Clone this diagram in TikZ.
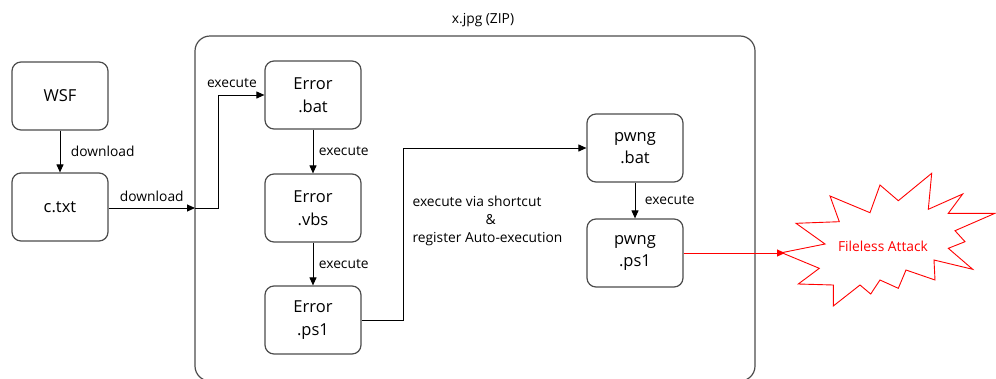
\documentclass[tikz,border=0pt]{standalone}
\usepackage{fontspec}
\setmainfont{Open Sans}
\usetikzlibrary{arrows.meta}
\begin{document}
\begin{tikzpicture}[x=1pt,y=-1pt,
        box/.style={draw=black!70,line width=1.2pt,rounded corners=9pt,minimum width=96pt,minimum height=68pt,inner sep=0pt,align=center,font=\fontsize{16.5}{22.5}\selectfont},
        lbl/.style={font=\fontsize{13.8}{18}\selectfont},
        arr/.style={-{Triangle[length=8pt,width=7pt]},line width=1pt}]
        \useasboundingbox (0,0) rectangle (996,378);
        % container
        \draw[draw=black!70,line width=1.2pt,rounded corners=15pt] (195,36) rectangle (755,381);
        \node[lbl] (zip) at (483,20) {x.jpg (ZIP)};
        \coordinate (entry) at (195,208);
        \coordinate (bend) at (403,0);
        % nodes
        \node[box] (wsf) at (60,96) {WSF};
        \node[box] (ctxt) at (60,207) {c.txt};
        \node[box] (ebat) at (313,95) {Error\\.bat};
        \node[box] (evbs) at (313,208) {Error\\.vbs};
        \node[box] (eps) at (313,320) {Error\\.ps1};
        \node[box] (pbat) at (635,148) {pwng\\.bat};
        \node[box] (pps) at (635,253) {pwng\\.ps1};
        % fileless attack
        \draw[red,line width=0.9pt] (781.7,252.7) -- (825,244) -- (796,223.3) -- (839.3,221.7) -- (830,196) -- (870,212.7) -- (880,185) -- (898.3,200.7) -- (931.7,173.3) -- (928.3,209.3) -- (962.7,194) -- (948.3,213.3) -- (995,213.3) -- (955,230.7) -- (965,241.7) -- (948.3,248.3) -- (972.7,269.3) -- (934,260) -- (935,280) -- (906,270) -- (898.3,288.3) -- (880,280) -- (870.7,294) -- (860,285) -- (833.3,306) -- (833.3,285) -- (798.3,284) -- (819.3,268.3) -- cycle;
        \node[lbl,text=red] (attack) at (883,246) {Fileless Attack};
        \coordinate (burst) at (785,253);
        % connectors
        \draw[arr] (wsf) -- (ctxt) node[lbl,midway,right=7pt] {download};
        \draw[arr] (ctxt.east |- entry) -- (entry) node[lbl,midway,above=3pt] {download};
        \draw[arr] (entry) -- (218,208) |- (ebat.west) node[lbl,pos=0.65,above=4pt] {execute};
        \draw[arr] (ebat) -- (evbs) node[lbl,midway,right=2pt] {execute};
        \draw[arr] (evbs) -- (eps) node[lbl,midway,right=2pt] {execute};
        \draw[arr] (eps.east) -- (bend |- eps.east) |- (pbat.west);
        \node[lbl,align=left,anchor=west] (via) at (409,221) {execute via shortcut\\\hspace*{73pt}\&\\register Auto-execution};
        \draw[arr] (pbat) -- (pps) node[lbl,midway,right=6pt] {execute};
        \draw[arr,draw=red,fill=red] (pps) -- (burst);
\end{tikzpicture}
\end{document}
